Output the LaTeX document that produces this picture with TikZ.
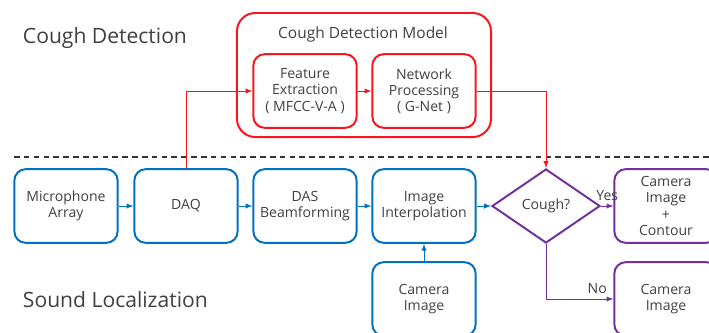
\documentclass[tikz,border=0pt]{standalone}
\usepackage{fontspec}
\setmainfont{Open Sans}
\definecolor{DetectRed}{RGB}{250,20,30}
\definecolor{LocalBlue}{RGB}{0,112,192}
\definecolor{DecidePurple}{RGB}{112,48,160}
\definecolor{TextGray}{RGB}{64,64,64}
\usetikzlibrary{positioning,shapes.geometric}

\begin{document}
\begin{tikzpicture}[x=0.025cm,y=-0.025cm,>=latex,
      blk/.style={draw=LocalBlue,line width=1.4pt,rounded corners=8pt,minimum width=2.58cm,
                  minimum height=1.84cm,align=center,text=TextGray,font=\fontsize{10}{11.5}\selectfont},
      redblk/.style={blk,draw=DetectRed},
      purpblk/.style={blk,draw=DecidePurple},
      decide/.style={diamond,draw=DecidePurple,line width=1.4pt,minimum width=2.7cm,minimum height=1.85cm,
                     inner sep=0pt,text=TextGray,font=\fontsize{10}{11.5}\selectfont},
      head/.style={anchor=west,text=TextGray,font=\fontsize{15}{18}\selectfont},
      ar/.style={->,line width=0.7pt,draw=LocalBlue},
      redar/.style={ar,draw=DetectRed},
      purpar/.style={ar,draw=DecidePurple}]
    \clip (0,0) rectangle (709,332);
    \node[head] (cdet) at (18,38) {Cough Detection};
    \node[head] (sloc) at (18,300) {Sound Localization};
    % detection model
    \node[draw=DetectRed,line width=1.4pt,rounded corners=13pt,minimum width=6.35cm,minimum height=3.1cm] (model) at (364,75) {};
    \node[text=TextGray,font=\fontsize{11}{13}\selectfont] (mtitle) at (363,34) {Cough Detection Model};
    \node[redblk] (feat) at (305,91) {Feature\\Extraction\\( MFCC-V-A )};
    \node[redblk] (gnet) at (424,91) {Network\\Processing\\( G-Net )};
    \draw[dashed,dash pattern=on 4pt off 3pt,line width=1pt,draw=black!80] (14,157) -- (709,157);
    % localization row
    \node[blk] (mic) at (66,206) {Microphone\\Array};
    \node[blk] (daq) at (186,206) {DAQ};
    \node[blk] (das) at (305,206) {DAS\\Beamforming};
    \node[blk] (interp) at (424,206) {Image\\Interpolation};
    \node[blk] (cam) at (424,299) {Camera\\Image};
    \node[decide] (cough) at (546,206) {Cough?};
    \node[purpblk] (contour) at (666,206) {Camera\\Image\\+\\Contour};
    \node[purpblk] (camout) at (666,299) {Camera\\Image};
    \foreach \a/\b in {mic/daq,daq/das,das/interp,interp/cough,cam/interp} \draw[ar] (\a) -- (\b);
    \draw[redar] (daq.north) |- (feat.west);
    \draw[redar] (feat) -- (gnet);
    \draw[redar] (gnet.east) -| (cough.north);
    \draw[purpar] (cough.east) -- node[above,text=TextGray,font=\fontsize{10}{12}\selectfont] {Yes} (contour.west);
    \draw[purpar] (cough.south) |- node[pos=0.88,above,text=TextGray,font=\fontsize{10}{12}\selectfont] {No} (camout.west);
  \end{tikzpicture}
\end{document}
